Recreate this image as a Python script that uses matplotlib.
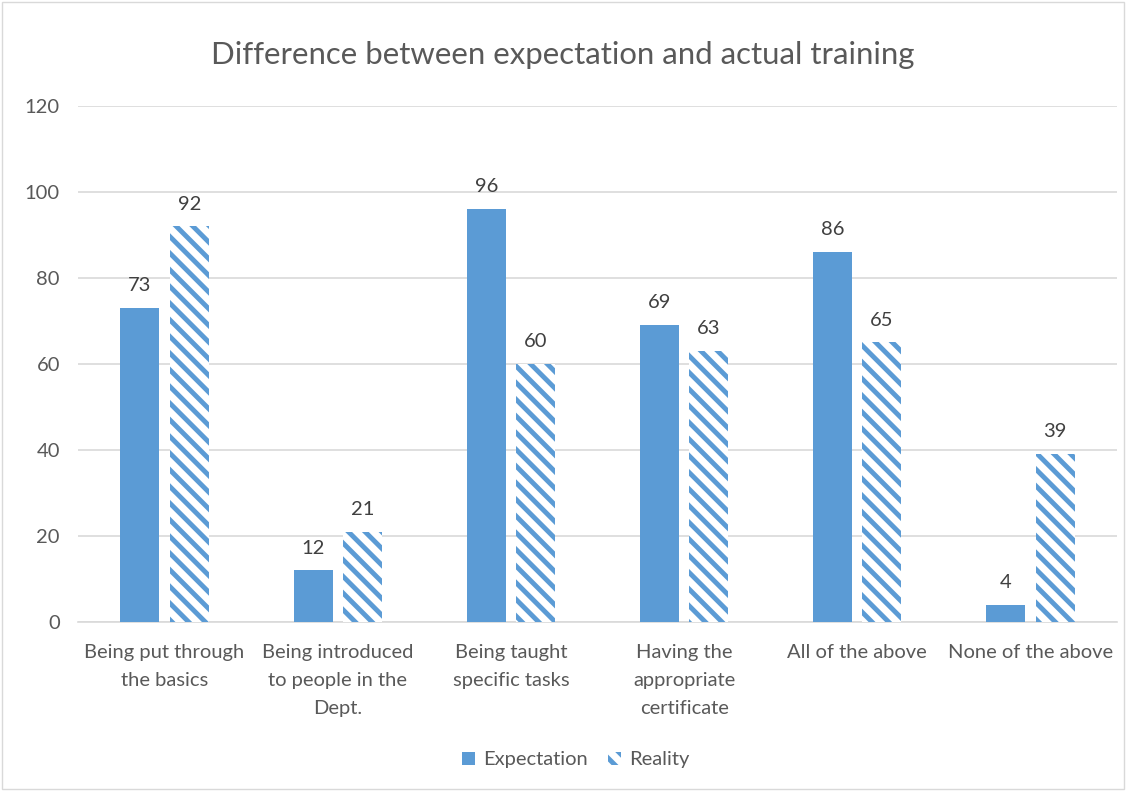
import matplotlib
matplotlib.use("Agg")
import matplotlib.pyplot as plt
import numpy as np
from matplotlib.patches import Rectangle

categories = ["Being put through\nthe basics", "Being introduced\nto people in the\nDept.",
              "Being taught\nspecific tasks", "Having the\nappropriate\ncertificate",
              "All of the above", "None of the above"]
expectation = [73, 12, 96, 69, 86, 4]
reality = [92, 21, 60, 63, 65, 39]
yticks = [0, 20, 40, 60, 80, 100, 120]

plt.rcParams['font.family'] = ['Lato', 'DejaVu Sans']
plt.rcParams['hatch.linewidth'] = 3.5
blue = '#5B9BD5'
txt = '#595959'

fig = plt.figure(figsize=(11.26, 7.91), dpi=100)
ax = fig.add_axes([78/1126, 1-622/791, (1117-78)/1126, (622-106)/791])

x = np.arange(len(categories))
w = 0.225
gap = 0.06
b1 = ax.bar(x - w/2 - gap/2, expectation, w, color=blue, label='Expectation', zorder=3)
b2 = ax.bar(x + w/2 + gap/2, reality, w, facecolor='white', edgecolor=blue, hatch='\\\\',
            linewidth=0, label='Reality', zorder=3)

for rects, vals in ((b1, expectation), (b2, reality)):
    for r, v in zip(rects, vals):
        ax.annotate(str(v), (r.get_x() + r.get_width()/2, v), xytext=(0, 10),
                    textcoords='offset points', ha='center', va='bottom',
                    fontsize=14.5, color='#404040')

ax.set_xlim(-0.5, len(categories) - 0.5)
ax.set_ylim(0, 120)
ax.set_yticks(yticks)
ax.set_xticks(x)
ax.set_xticklabels(categories, fontsize=14.5, color=txt, linespacing=1.76, va='top')
ax.tick_params(axis='y', labelsize=14.5, labelcolor=txt, length=0, pad=13)
ax.tick_params(axis='x', length=0, pad=16)
ax.grid(axis='y', color='#D9D9D9', linewidth=1.2, zorder=0)
for s in ('top', 'right', 'left'):
    ax.spines[s].set_visible(False)
ax.spines['bottom'].set_color('#D9D9D9')
ax.spines['bottom'].set_linewidth(1.2)

fig.text(0.5, 1-55/791, 'Difference between expectation and actual training', ha='center', va='center',
         fontsize=22.4, color=txt)

leg = fig.legend(loc='center', bbox_to_anchor=(576/1126, 1-760/791), ncol=2, frameon=False,
                 fontsize=14.5, handlelength=0.65, handleheight=0.65, handletextpad=0.4, columnspacing=1.0)
for t in leg.get_texts():
    t.set_color(txt)

fig.patches.append(Rectangle((0.002, 0.002), 0.996, 0.996, transform=fig.transFigure,
                             fill=False, edgecolor='#D9D9D9', linewidth=1))

fig.savefig('out.png', dpi=100)
